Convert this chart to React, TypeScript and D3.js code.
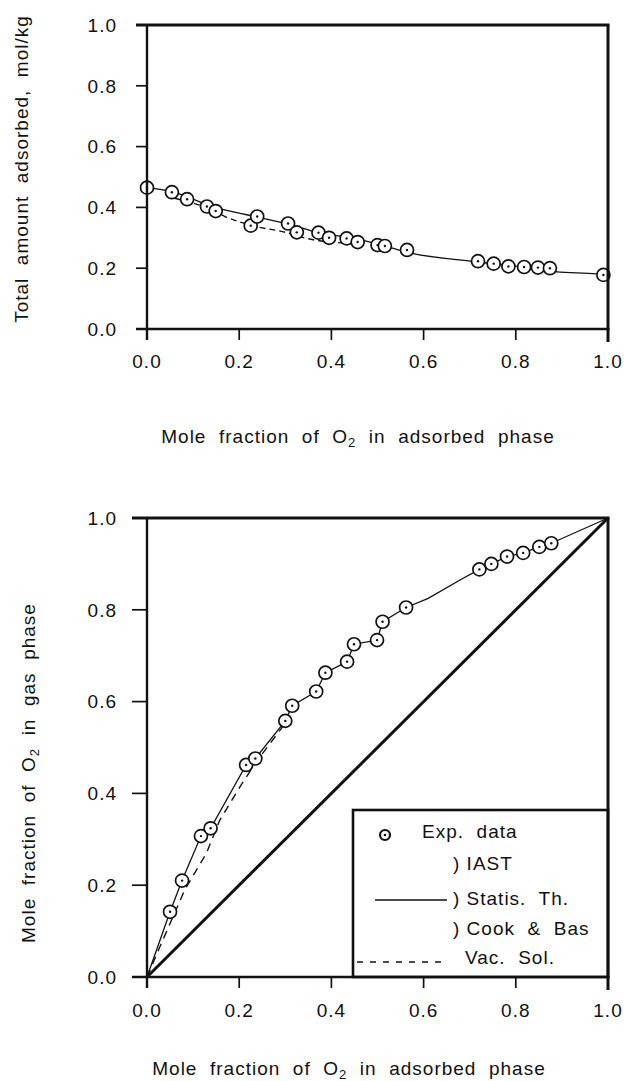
import React from "react";
import * as d3 from "d3";

// ---------- data ----------
const xTicks = [0, 0.2, 0.4, 0.6, 0.8, 1.0];
const yTicks = [0, 0.2, 0.4, 0.6, 0.8, 1.0];

// Top panel: total amount adsorbed (mol/kg) vs mole fraction O2 in adsorbed phase
const topExpX = [0, 0.054, 0.087, 0.13, 0.149, 0.225, 0.239, 0.306, 0.325, 0.372, 0.395, 0.433, 0.457, 0.5, 0.516, 0.564, 0.718, 0.752, 0.784, 0.818, 0.848, 0.874, 0.99];
const topExpY = [0.465, 0.45, 0.427, 0.403, 0.388, 0.34, 0.37, 0.347, 0.318, 0.317, 0.3, 0.298, 0.286, 0.276, 0.273, 0.26, 0.223, 0.215, 0.206, 0.204, 0.202, 0.2, 0.178];
const topSolidX = [0, 0.054, 0.144, 0.238, 0.307, 0.372, 0.433, 0.5, 0.565, 0.708, 0.8, 0.874, 0.889, 0.975, 0.99];
const topSolidY = [0.465, 0.452, 0.402, 0.369, 0.345, 0.317, 0.302, 0.28, 0.252, 0.222, 0.207, 0.196, 0.188, 0.181, 0.178];
const topDashX = [0.06, 0.137, 0.169, 0.223, 0.303, 0.346, 0.43, 0.46];
const topDashY = [0.43, 0.394, 0.37, 0.342, 0.317, 0.298, 0.282, 0.278];

// Bottom panel: mole fraction O2 in gas phase vs adsorbed phase
const botExpX = [0.05, 0.076, 0.117, 0.138, 0.215, 0.235, 0.3, 0.315, 0.367, 0.387, 0.434, 0.449, 0.499, 0.511, 0.562, 0.721, 0.747, 0.781, 0.816, 0.851, 0.877];
const botExpY = [0.142, 0.21, 0.307, 0.324, 0.462, 0.476, 0.558, 0.591, 0.622, 0.663, 0.687, 0.725, 0.734, 0.774, 0.805, 0.888, 0.9, 0.916, 0.924, 0.937, 0.945];
const botSolidX = [0, 0.05, 0.076, 0.117, 0.138, 0.215, 0.235, 0.3, 0.315, 0.367, 0.387, 0.434, 0.449, 0.499, 0.511, 0.562, 0.61, 0.679, 0.721, 0.747, 0.781, 0.816, 0.851, 0.877, 1.0];
const botSolidY = [0, 0.142, 0.21, 0.307, 0.324, 0.462, 0.476, 0.558, 0.591, 0.622, 0.663, 0.687, 0.725, 0.734, 0.774, 0.805, 0.825, 0.865, 0.888, 0.9, 0.916, 0.924, 0.937, 0.945, 1.0];
const botDashX = [0, 0.028, 0.082, 0.129, 0.158, 0.202, 0.238, 0.3];
const botDashY = [0, 0.066, 0.19, 0.27, 0.342, 0.415, 0.47, 0.553];
const diagX = [0, 1];
const diagY = [0, 1];

const legendLabels = ["Exp.  data", ") IAST", ") Statis.  Th.", ") Cook  &  Bas", "Vac.  Sol."];

const topYTitle = "Total  amount  adsorbed,  mol/kg";
const xTitleA = "Mole  fraction  of  O";
const xTitleB = "  in  adsorbed  phase";
const botYTitleA = "Mole  fraction  of  O";
const botYTitleB = "  in  gas  phase";

const FONT = "'Liberation Sans', Arial, Helvetica, sans-serif";
const FS = 19;
const zip = (xs: number[], ys: number[]) => xs.map((x, i) => [x, ys[i]] as [number, number]);
const pre = { whiteSpace: "pre" as const };

function Marker({ cx, cy }: { cx: number; cy: number }) {
  return (
    <g>
      <circle cx={cx} cy={cy} r={6.5} fill="#fff" stroke="#111" strokeWidth={1.7} />
      <circle cx={cx} cy={cy} r={1.2} fill="#111" />
    </g>
  );
}

function Frame({ x, y, tickLenY, tickLenX }: { x: d3.ScaleLinear<number, number>; y: d3.ScaleLinear<number, number>; tickLenY: number; tickLenX: number }) {
  const [x0, x1] = x.range();
  const [y0, y1] = y.range();
  return (
    <g stroke="#111" fill="none">
      <line x1={x0} x2={x0} y1={y1 - 1} y2={y0 + tickLenX} strokeWidth={2.4} />
      <line x1={x0 - tickLenY} x2={x1 + 1.5} y1={y1} y2={y1} strokeWidth={3} />
      <line x1={x1} x2={x1} y1={y1} y2={y0 + tickLenX + 2} strokeWidth={3} />
      <line x1={x0 - tickLenY} x2={x1 + 1.5} y1={y0} y2={y0} strokeWidth={2.6} />
      {yTicks.slice(1, -1).map((t) => (
        <line key={"yt" + t} x1={x0 - tickLenY} x2={x0} y1={y(t)} y2={y(t)} strokeWidth={1.7} />
      ))}
      {xTicks.slice(1, -1).map((t) => (
        <line key={"xt" + t} x1={x(t)} x2={x(t)} y1={y0} y2={y0 + tickLenX} strokeWidth={1.7} />
      ))}
    </g>
  );
}

function TickLabels({ x, y, xBase, yRight }: { x: d3.ScaleLinear<number, number>; y: d3.ScaleLinear<number, number>; xBase: number; yRight: number }) {
  const fmt = d3.format(".1f");
  return (
    <g fontFamily={FONT} fontSize={FS} fill="#111" letterSpacing={1}>
      {yTicks.map((t) => (
        <text key={"yl" + t} x={yRight} y={y(t)} dy="0.36em" textAnchor="end">
          {fmt(t)}
        </text>
      ))}
      {xTicks.map((t) => (
        <text key={"xl" + t} x={x(t)} y={xBase} textAnchor="middle">
          {fmt(t)}
        </text>
      ))}
    </g>
  );
}

export default function App() {
  const W = 626;
  const H = 1081;

  const xT = d3.scaleLinear().domain([0, 1]).range([147, 608]);
  const yT = d3.scaleLinear().domain([0, 1]).range([329, 25]);
  const xB = d3.scaleLinear().domain([0, 1]).range([147, 608]);
  const yB = d3.scaleLinear().domain([0, 1]).range([977, 518]);

  const lineT = d3.line<[number, number]>().x((d) => xT(d[0])).y((d) => yT(d[1])).curve(d3.curveMonotoneX);
  const lineB = d3.line<[number, number]>().x((d) => xB(d[0])).y((d) => yB(d[1])).curve(d3.curveLinear);

  const topExp = zip(topExpX, topExpY);
  const botExp = zip(botExpX, botExpY);

  const legLeft = 353;
  const legTop = 810;
  const legRight = xB.range()[1];
  const legBottom = yB.range()[0];
  const textX = 422;
  const parenX = 453;

  return (
    <svg width={W} height={H} viewBox={`0 0 ${W} ${H}`} style={{ position: "absolute", left: 0, top: 0, background: "#fff" }}>
      <rect x={0} y={0} width={W} height={H} fill="#fff" />

      {/* ===== TOP PANEL ===== */}
      <path d={lineT(zip(topDashX, topDashY)) || ""} fill="none" stroke="#111" strokeWidth={1.4} strokeDasharray="6 4" />
      <path d={lineT(zip(topSolidX, topSolidY)) || ""} fill="none" stroke="#111" strokeWidth={1.3} />
      {topExp.map((d, i) => (
        <Marker key={"te" + i} cx={xT(d[0])} cy={yT(d[1])} />
      ))}
      <Frame x={xT} y={yT} tickLenY={11} tickLenX={11} />
      <TickLabels x={xT} y={yT} xBase={368} yRight={117} />
      <text transform="translate(28, 169) rotate(-90)" textAnchor="middle" fontFamily={FONT} fontSize={FS} letterSpacing={1} fill="#111" style={pre}>
        {topYTitle}
      </text>
      <text x={358} y={443} textAnchor="middle" fontFamily={FONT} fontSize={FS} letterSpacing={1} fill="#111" style={pre}>
        {xTitleA}
        <tspan fontSize={13} dy={4}>2</tspan>
        <tspan dy={-4}>{xTitleB}</tspan>
      </text>

      {/* ===== BOTTOM PANEL ===== */}
      <path d={lineB(zip(diagX, diagY)) || ""} fill="none" stroke="#111" strokeWidth={3} />
      <path d={lineB(zip(botDashX, botDashY)) || ""} fill="none" stroke="#111" strokeWidth={1.4} strokeDasharray="8 6" />
      <path d={lineB(zip(botSolidX, botSolidY)) || ""} fill="none" stroke="#111" strokeWidth={1.3} />
      {botExp.map((d, i) => (
        <Marker key={"be" + i} cx={xB(d[0])} cy={yB(d[1])} />
      ))}

      {/* legend */}
      <rect x={legLeft} y={legTop} width={legRight - legLeft} height={legBottom - legTop} fill="#fff" stroke="#111" strokeWidth={2.6} />
      <g fontFamily={FONT} fontSize={FS} letterSpacing={1} fill="#111">
        <circle cx={385} cy={835} r={5} fill="#fff" stroke="#111" strokeWidth={2.2} />
        <circle cx={385} cy={835} r={1.3} fill="#111" />
        <text x={textX} y={838} style={pre}>{legendLabels[0]}</text>
        <text x={parenX} y={870} style={pre}>{legendLabels[1]}</text>
        <line x1={375} x2={447} y1={900} y2={900} stroke="#111" strokeWidth={1.4} />
        <text x={parenX} y={905} style={pre}>{legendLabels[2]}</text>
        <text x={parenX} y={935} style={pre}>{legendLabels[3]}</text>
        <line x1={357} x2={445} y1={962} y2={962} stroke="#111" strokeWidth={1.3} strokeDasharray="6 7" />
        <text x={465} y={964} style={pre}>{legendLabels[4]}</text>
      </g>

      <Frame x={xB} y={yB} tickLenY={15} tickLenX={11} />
      <TickLabels x={xB} y={yB} xBase={1017} yRight={117} />
      <text transform="translate(35, 773) rotate(-90)" textAnchor="middle" fontFamily={FONT} fontSize={FS} letterSpacing={1} fill="#111" style={pre}>
        {botYTitleA}
        <tspan fontSize={13} dy={4}>2</tspan>
        <tspan dy={-4}>{botYTitleB}</tspan>
      </text>
      <text x={349} y={1075} textAnchor="middle" fontFamily={FONT} fontSize={FS} letterSpacing={1} fill="#111" style={pre}>
        {xTitleA}
        <tspan fontSize={13} dy={4}>2</tspan>
        <tspan dy={-4}>{xTitleB}</tspan>
      </text>
    </svg>
  );
}
